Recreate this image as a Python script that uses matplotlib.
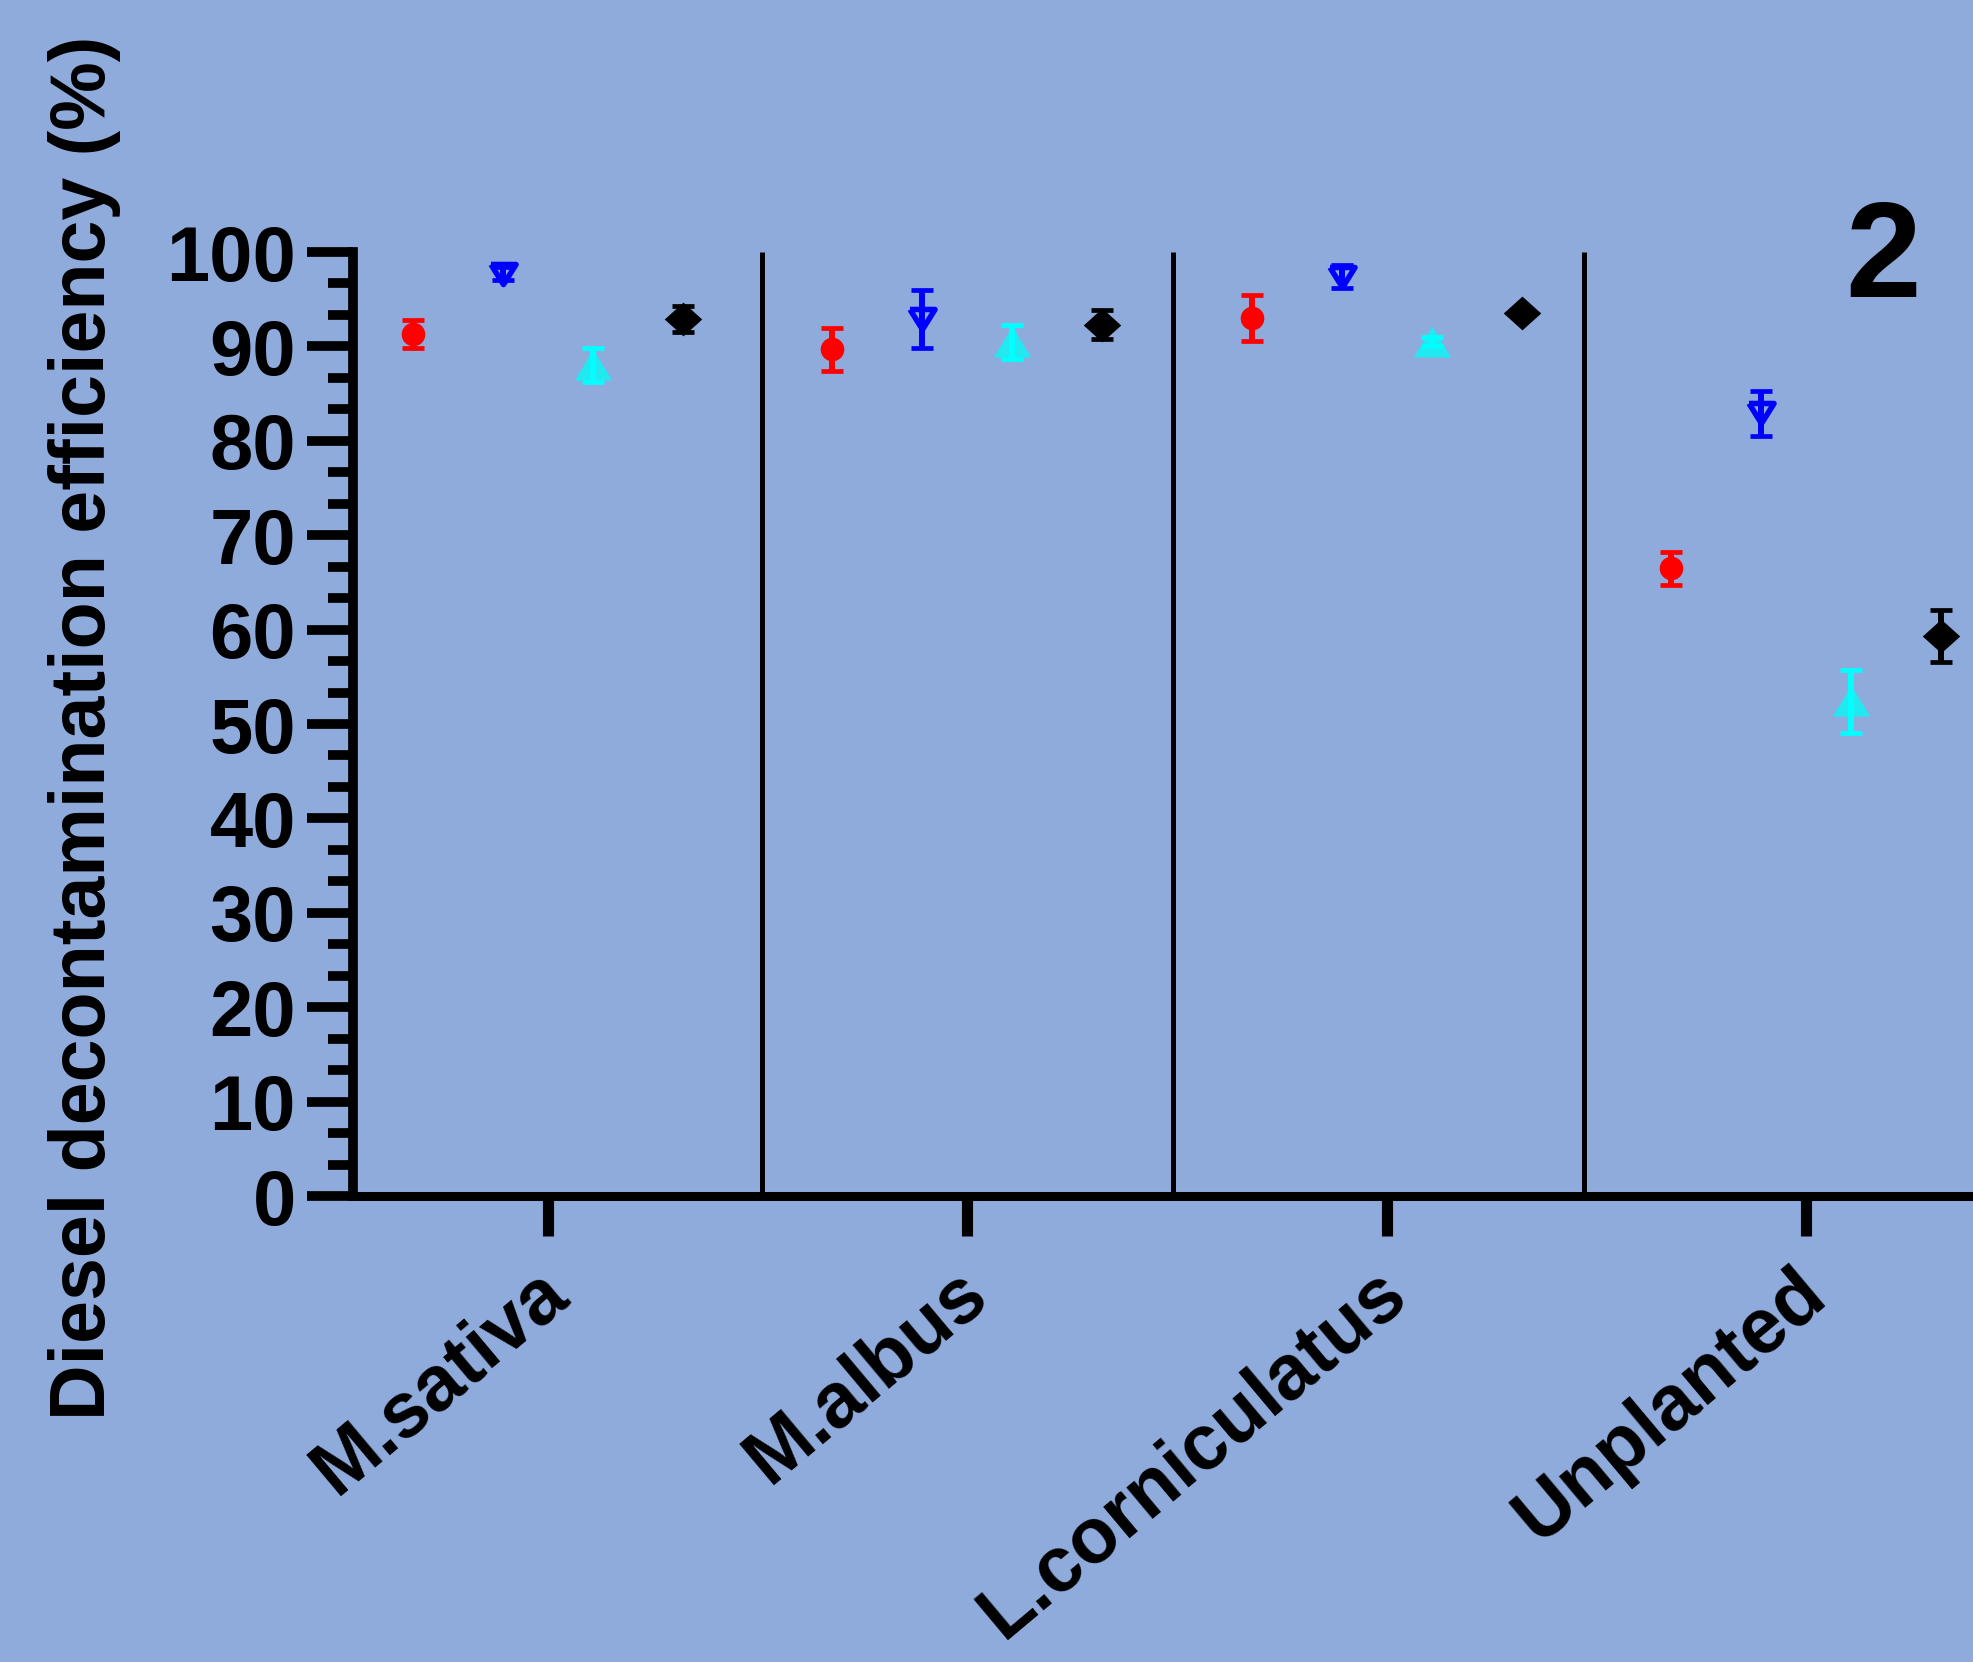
import numpy as np
import matplotlib
matplotlib.use('Agg')
import matplotlib.pyplot as plt
from matplotlib.ticker import MultipleLocator
from matplotlib.transforms import ScaledTranslation

plt.rcParams['font.family'] = ['Liberation Sans', 'DejaVu Sans']
plt.rcParams['font.weight'] = 'bold'

# data
categories = ['M.sativa', 'M.albus', 'L.corniculatus', 'Unplanted']
red_mean = [91.3, 89.7, 93.0, 66.5]
red_err = [1.5, 2.3, 2.4, 1.75]
blue_mean = [97.7, 92.9, 97.4, 82.9]
blue_err = [0.7, 3.1, 1.2, 2.4]
cyan_mean = [88.0, 90.5, 90.5, 52.4]
cyan_err = [1.8, 1.8, 0.5, 3.35]
black_mean = [92.9, 92.3, 93.5, 59.3]
black_err = [1.35, 1.55, 0.4, 2.75]
separators = [0.51, 1.49, 2.47]

bg = '#8FABDC'
x = np.arange(len(categories))

fig = plt.figure(figsize=(19.73, 16.62), dpi=100, facecolor=bg)
ax = fig.add_axes([353 / 1973, 1 - 1196 / 1662, 1 - 353 / 1973, (1196 - 252) / 1662])
ax.set_facecolor(bg)

tri_down = [(-1, 0.8), (1, 0.8), (0, -0.8), (-1, 0.8)]
tri_up = [(-1, -0.8), (1, -0.8), (0, 0.85), (-1, -0.8)]
diamond = [(-1, 0), (0, 0.9), (1, 0), (0, -0.9), (-1, 0)]

series = [
    (red_mean, red_err, -0.322, 'o', '#FF0000', '#FF0000', 17, True),
    (blue_mean, blue_err, -0.107, tri_down, '#0000FF', '#0000FF', 18, False),
    (cyan_mean, cyan_err, 0.107, tri_up, '#22E8F0', '#00FFFF', 27, True),
    (black_mean, black_err, 0.322, diamond, '#000000', '#000000', 27, True),
]

for mean, err, off, mk, mcol, ecol, ms, filled in series:
    xs = x + off
    if filled:
        ax.plot(xs, mean, ls='none', marker=mk, ms=ms, color=mcol, mec=mcol,
                mew=0, zorder=3, clip_on=False)
    else:
        ax.plot(xs, mean, ls='none', marker=mk, ms=ms, mfc='none', mec=mcol,
                mew=4, zorder=3, clip_on=False)
    ax.errorbar(xs, mean, yerr=err, fmt='none', ecolor=ecol, elinewidth=4.3,
                capsize=8, capthick=3.4, zorder=4, clip_on=False)

ax.vlines(separators, 0, 100, colors='black', lw=3.6, zorder=2)

ax.set_xlim(-0.465, 3.398)
ax.set_ylim(0, 100)

for s in ['top', 'right']:
    ax.spines[s].set_visible(False)
ax.spines['left'].set_linewidth(7)
ax.spines['bottom'].set_linewidth(6.5)

ax.yaxis.set_major_locator(MultipleLocator(10))
ax.yaxis.set_minor_locator(MultipleLocator(10 / 3))
ax.tick_params(axis='y', which='major', length=33, width=7, pad=8, labelsize=56)
ax.tick_params(axis='y', which='minor', length=18, width=7)
ax.tick_params(axis='x', which='major', length=29, width=8, pad=34)

ax.set_xticks(x)
ax.set_xticklabels(categories, rotation=40, ha='right', va='center',
                   rotation_mode='anchor', fontsize=56, fontweight='bold')
shift = ScaledTranslation(0.1, 0, fig.dpi_scale_trans)
for lab in ax.get_xticklabels():
    lab.set_transform(lab.get_transform() + shift)
for lab in ax.get_yticklabels():
    lab.set_fontweight('bold')

fig.text(85 / 1973, 1 - 728 / 1662, 'Diesel decontamination efficiency (%)',
         rotation=90, ha='center', va='center', fontsize=55.5, fontweight='bold')
fig.text(1883 / 1973, 1 - 262 / 1662, '2', ha='center', va='center',
         fontsize=98, fontweight='bold')

fig.savefig('out.png', dpi=100, facecolor=bg)
